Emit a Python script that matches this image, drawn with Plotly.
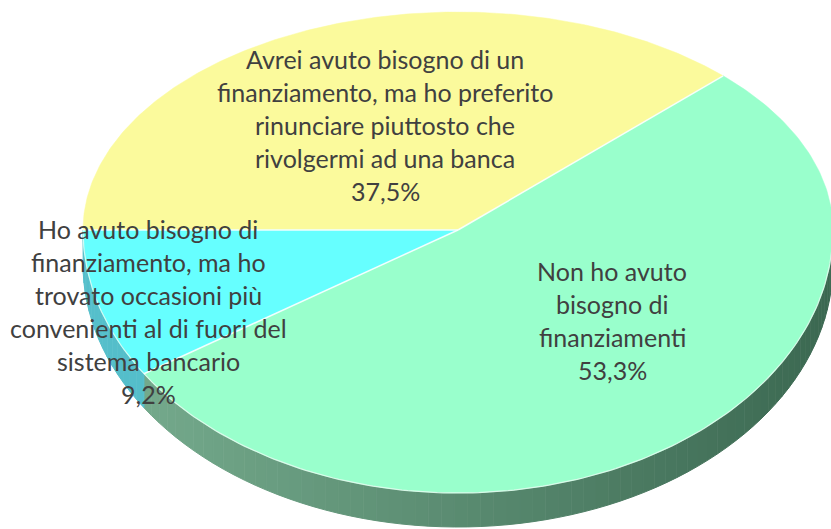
import numpy as np
import plotly.graph_objects as go

# ---- data -------------------------------------------------------------
categories = [
    "Avrei avuto bisogno di un finanziamento, ma ho preferito rinunciare piuttosto che rivolgermi ad una banca",
    "Non ho avuto bisogno di finanziamenti",
    "Ho avuto bisogno di finanziamento, ma ho trovato occasioni più convenienti al di fuori del sistema bancario",
]
label_lines = [
    ["Avrei avuto bisogno di un", "finanziamento, ma ho preferito",
     "rinunciare piuttosto che", "rivolgermi ad una banca"],
    ["Non ho avuto", "bisogno di", "finanziamenti"],
    ["Ho avuto bisogno di", "finanziamento, ma ho", "trovato occasioni più",
     "convenienti al di fuori del", "sistema bancario"],
]
values = [37.5, 53.3, 9.2]

# ---- style ------------------------------------------------------------
top_colors = ["#FBFA9C", "#99FFCC", "#66FFFF"]
side_colors = [None, ("#78AE90", "#3B6851"), ("#55BFCB", "#3FA9B8")]
label_pos = [(385, 59), (612, 271), (148, 229)]   # centre x, first line y
LINE_H = 33
FONT = dict(family="Lato, Open Sans, sans-serif", size=25, color="#404040")

W, H = 831, 529
CX, CY = 458, 230          # apex of the slices
RX, RY_UP, RY_DN = 375, 218, 263
DEPTH = 34
START = 180.0              # first slice starts at 9 o'clock, runs clockwise


def rim(theta_deg, drop=0.0):
    th = np.radians(theta_deg)
    s = np.sin(th)
    ry = np.where(s > 0, RY_UP, RY_DN)
    return CX + RX * np.cos(th), CY - ry * s + drop


def mix(c1, c2, t):
    a = [int(c1[i:i + 2], 16) for i in (1, 3, 5)]
    b = [int(c2[i:i + 2], 16) for i in (1, 3, 5)]
    return "#%02x%02x%02x" % tuple(round(a[k] + (b[k] - a[k]) * t) for k in range(3))


# slice angles (clockwise from START)
total = sum(values)
spans = [v / total * 360.0 for v in values]
bounds = []
a = START
for sp in spans:
    bounds.append((a, a - sp))
    a -= sp

fig = go.Figure()

# ---- side wall (front half only, angles in [-180, 0]) -----------------
for i, (a0, a1) in enumerate(bounds):
    if side_colors[i] is None:
        continue
    seg_hi = min(a0, 0.0)
    seg_lo = max(a1, -180.0)
    if seg_hi <= seg_lo:
        continue
    n = max(4, int((seg_hi - seg_lo) / 2))
    edges = np.linspace(seg_lo, seg_hi, n + 1)
    c_left, c_right = side_colors[i]
    for k in range(n):
        th = np.linspace(edges[k], edges[k + 1], 6)
        xt, yt = rim(th)
        xb, yb = rim(th[::-1], DEPTH)
        xm = float(np.mean(xt))
        t = min(max((xm - 90) / (W - 90), 0), 1)
        col = mix(c_left, c_right, t)
        fig.add_trace(go.Scatter(
            x=np.concatenate([xt, xb]), y=np.concatenate([yt, yb]),
            fill="toself", fillcolor=col, mode="lines",
            line=dict(color=col, width=1), hoverinfo="skip", showlegend=False))

# ---- top surface -------------------------------------------------------
for i, (a0, a1) in enumerate(bounds):
    th = np.linspace(a0, a1, 200)
    xs, ys = rim(th)
    fig.add_trace(go.Scatter(
        x=np.concatenate([[CX], xs, [CX]]), y=np.concatenate([[CY], ys, [CY]]),
        fill="toself", fillcolor=top_colors[i], mode="lines",
        line=dict(color=top_colors[i], width=0.5),
        name=categories[i], hoverinfo="name", showlegend=False))

# light rim along the front edge of the top surface
th = np.linspace(-180, 0, 200)
xr, yr = rim(th)
fig.add_trace(go.Scatter(x=xr, y=yr, mode="lines",
                         line=dict(color="rgba(235,255,245,0.8)", width=1.2),
                         hoverinfo="skip", showlegend=False))

# thin separators between slices
for a0, _ in bounds:
    x1, y1 = rim(np.array([a0]))
    fig.add_trace(go.Scatter(x=[CX, x1[0]], y=[CY, y1[0]], mode="lines",
                             line=dict(color="rgba(255,255,255,0.9)", width=1.5),
                             hoverinfo="skip", showlegend=False))

# ---- labels ------------------------------------------------------------
for i, lines in enumerate(label_lines):
    pct = f"{values[i]:.1f}%".replace(".", ",")
    x0, y0 = label_pos[i]
    for j, txt in enumerate(lines + [pct]):
        fig.add_annotation(x=x0, y=y0 + j * LINE_H, text=txt, showarrow=False,
                           xanchor="center", yanchor="middle", font=FONT)

fig.update_layout(
    width=W, height=H, margin=dict(l=0, r=0, t=0, b=0),
    paper_bgcolor="white", plot_bgcolor="white",
    xaxis=dict(range=[0, W], visible=False, fixedrange=True),
    yaxis=dict(range=[H, 0], visible=False, fixedrange=True),
)

fig.write_html("out.html")
